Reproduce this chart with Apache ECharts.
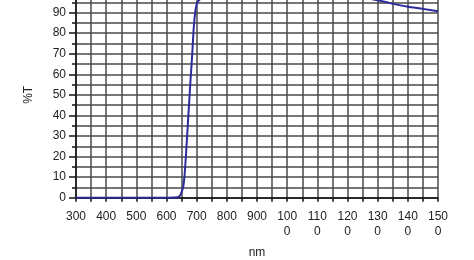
<!DOCTYPE html>
<html>
<head>
<meta charset="utf-8">
<script src="https://cdn.jsdelivr.net/npm/echarts@6/dist/echarts.min.js"></script>
<style>
html,body{margin:0;padding:0;background:#fff;overflow:hidden;width:474px;height:260px;}
#c{width:474px;height:268px;position:absolute;left:0;top:-8px;}
</style>
</head>
<body>
<div id="c"></div>
<script>
var wavelengths = [300, 400, 500, 600, 640, 648, 655, 660, 665, 670, 675, 680, 685, 690, 695, 700, 705, 711, 720, 740, 800, 900, 1000, 1100, 1200, 1260, 1300, 1340, 1400, 1450, 1500];
var transmittance = [0, 0, 0, 0, 0.3, 2, 5, 11, 22, 34, 46, 58, 69, 82, 90, 94, 95.5, 96.5, 97.5, 98.2, 98.6, 98.6, 98.5, 98.3, 97.8, 97, 96, 94.6, 92.8, 91.8, 90.6];
var xTickValues = [300, 400, 500, 600, 700, 800, 900, 1000, 1100, 1200, 1300, 1400, 1500];
var yTickValues = [0, 10, 20, 30, 40, 50, 60, 70, 80, 90, 100];

var seriesData = wavelengths.map(function (w, i) { return [w, transmittance[i]]; });

var chart = echarts.init(document.getElementById('c'), null, {renderer: 'canvas'});
var labelFont = {color: '#222', fontFamily: 'Liberation Sans, Arial, sans-serif', fontSize: 12};
chart.setOption({
  backgroundColor: '#fff',
  animation: false,
  grid: {left: 76, right: 36, top: 0, bottom: 62.3, containLabel: false, outerBoundsMode: 'none'},
  xAxis: {
    type: 'value',
    min: xTickValues[0],
    max: xTickValues[xTickValues.length - 1],
    interval: 100,
    name: 'nm',
    nameLocation: 'middle',
    nameGap: 49,
    nameTextStyle: labelFont,
    axisLine: {show: true, onZero: false, lineStyle: {color: '#111', width: 1.5}},
    axisTick: {show: true, length: 4, lineStyle: {color: '#111', width: 1.5}},
    minorTick: {show: true, splitNumber: 2, length: 4, lineStyle: {color: '#111', width: 1.5}},
    splitLine: {show: true, lineStyle: {color: '#4a4a4a', width: 1.5}},
    minorSplitLine: {show: true, lineStyle: {color: '#4a4a4a', width: 1.5}},
    axisLabel: Object.assign({
      margin: 11,
      lineHeight: 15,
      formatter: function (v) {
        var s = String(v);
        return s.length > 3 ? s.slice(0, 3) + '\n' + s.slice(3) : s;
      }
    }, labelFont)
  },
  yAxis: {
    type: 'value',
    min: yTickValues[0],
    max: yTickValues[yTickValues.length - 1],
    interval: 10,
    name: '%T',
    nameLocation: 'middle',
    nameRotate: 90,
    nameGap: 31,
    nameTextStyle: labelFont,
    axisLine: {show: true, lineStyle: {color: '#111', width: 1.5}},
    axisTick: {show: true, length: 7, lineStyle: {color: '#111', width: 1.5}},
    minorTick: {show: true, splitNumber: 2, length: 4, lineStyle: {color: '#111', width: 1.5}},
    splitLine: {show: true, lineStyle: {color: '#4a4a4a', width: 1.5}},
    minorSplitLine: {show: true, lineStyle: {color: '#4a4a4a', width: 1.5}},
    axisLabel: Object.assign({margin: 10}, labelFont)
  },
  series: [{
    type: 'line',
    data: seriesData,
    showSymbol: false,
    smooth: 0.2,
    lineStyle: {color: '#2b2b9c', width: 2},
    clip: true
  }]
});
</script>
</body>
</html>
